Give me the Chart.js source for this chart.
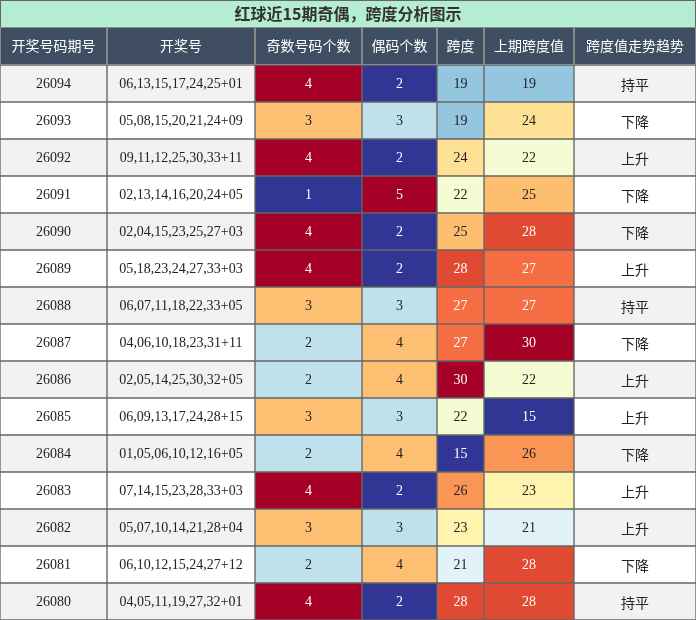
<!DOCTYPE html>
<html>
<head>
<meta charset="utf-8">
<script src="https://cdn.jsdelivr.net/npm/chart.js@4"></script>
<style>
  body { margin: 0; background: #fff; }
  #wrap { width: 696px; height: 620px; }
</style>
</head>
<body>
<div id="wrap"><canvas id="tbl"></canvas></div>
<script>
const title = '红球近15期奇偶，跨度分析图示';
const headers = ['开奖号码期号', '开奖号', '奇数号码个数', '偶码个数', '跨度', '上期跨度值', '跨度值走势趋势'];
const periods = ['26094','26093','26092','26091','26090','26089','26088','26087','26086','26085','26084','26083','26082','26081','26080'];
const draws = [
    '06,13,15,17,24,25+01', '05,08,15,20,21,24+09', '09,11,12,25,30,33+11', '02,13,14,16,20,24+05',
    '02,04,15,23,25,27+03', '05,18,23,24,27,33+03', '06,07,11,18,22,33+05', '04,06,10,18,23,31+11',
    '02,05,14,25,30,32+05', '06,09,13,17,24,28+15', '01,05,06,10,12,16+05', '07,14,15,23,28,33+03',
    '05,07,10,14,21,28+04', '06,10,12,15,24,27+12', '04,05,11,19,27,32+01'
];
const oddCount = [4,3,4,1,4,4,3,2,2,3,2,4,3,2,4];
const evenCount = [2,3,2,5,2,2,3,4,4,3,4,2,3,4,2];
const span = [19,19,24,22,25,28,27,27,30,22,15,26,23,21,28];
const prevSpan = [19,24,22,25,28,27,27,30,22,15,26,23,21,28,28];
const trend = ['持平','下降','上升','下降','下降','上升','持平','下降','上升','上升','下降','上升','上升','下降','持平'];

// column edges in px (x scale is 0..696)
const edges = [0, 107, 255, 362, 437, 484, 574, 696];

const countColors = { 1: '#313695', 2: '#bfe1eb', 3: '#fdbf71', 4: '#a50026', 5: '#a50026' };
const evenColors = { 2: '#313695', 3: '#bfe1eb', 4: '#fdbf71', 5: '#a50026' };
const spanColors = {
    15: '#313695', 19: '#94c6df', 21: '#e1f3f8', 22: '#f5fbd3', 23: '#fff4ad', 24: '#fee194',
    25: '#fdbe70', 26: '#f99555', 27: '#f46d43', 28: '#e04a33', 30: '#a50026'
};
const darkBg = ['#313695', '#a50026', '#e04a33', '#f46d43'];

const stripe = periods.map((p, i) => i % 2 === 0 ? '#f2f2f2' : '#ffffff');

const columns = [
    { text: periods, bg: stripe },
    { text: draws, bg: stripe },
    { text: oddCount, bg: oddCount.map(v => countColors[v]) },
    { text: evenCount, bg: evenCount.map(v => evenColors[v]) },
    { text: span, bg: span.map(v => spanColors[v]) },
    { text: prevSpan, bg: prevSpan.map(v => spanColors[v]) },
    { text: trend, bg: stripe }
];

const FONT = '"Liberation Serif", "Noto Sans CJK SC", serif';

const textPlugin = {
    id: 'cellText',
    afterDatasetsDraw(chart) {
        const ctx = chart.ctx;
        const x = chart.scales.x;
        ctx.save();
        ctx.textAlign = 'center';
        ctx.textBaseline = 'middle';
        columns.forEach((col, c) => {
            const meta = chart.getDatasetMeta(c);
            meta.data.forEach((bar, r) => {
                const isCjk = c === 6;
                ctx.font = (isCjk ? '14px "Noto Sans CJK SC"' : '14px ' + FONT);
                ctx.fillStyle = darkBg.includes(col.bg[r]) ? '#ffffff' : '#222222';
                const cx = (x.getPixelForValue(edges[c]) + x.getPixelForValue(edges[c + 1])) / 2;
                ctx.fillText(String(col.text[r]), cx, bar.y + 1);
            });
        });
        // title band
        const left = x.getPixelForValue(0), right = x.getPixelForValue(696);
        ctx.fillStyle = '#b5edd2';
        ctx.fillRect(left, 0, right - left, 27);
        ctx.strokeStyle = '#666';
        ctx.strokeRect(left + 0.5, 0.5, right - left - 1, 27);
        ctx.fillStyle = '#333';
        ctx.font = 'bold 16px "Noto Sans CJK SC"';
        ctx.fillText(title, (left + right) / 2, 14);
        // header row
        headers.forEach((h, c) => {
            const x0 = x.getPixelForValue(edges[c]), x1 = x.getPixelForValue(edges[c + 1]);
            ctx.fillStyle = '#3f4e62';
            ctx.fillRect(x0, 27, x1 - x0, chart.chartArea.top - 27);
            ctx.strokeStyle = '#888';
            ctx.strokeRect(x0 + 0.5, 27.5, x1 - x0 - 1, chart.chartArea.top - 28);
            ctx.fillStyle = '#ffffff';
            ctx.font = '14px "Noto Sans CJK SC"';
            ctx.fillText(h, (x0 + x1) / 2, (27 + chart.chartArea.top) / 2);
        });
        ctx.restore();
    }
};

new Chart(document.getElementById('tbl'), {
    type: 'bar',
    data: {
        labels: periods,
        datasets: columns.map((col, c) => ({
            data: periods.map(() => [edges[c], edges[c + 1]]),
            backgroundColor: col.bg,
            borderColor: '#666666',
            borderWidth: 1,
            borderSkipped: false,
            barPercentage: 1,
            categoryPercentage: 1
        }))
    },
    options: {
        indexAxis: 'y',
        responsive: true,
        maintainAspectRatio: false,
        animation: false,
        layout: { padding: { top: 65, left: 0, right: 0, bottom: 0 } },
        scales: {
            x: { display: false, min: 0, max: 696 },
            y: { display: false, stacked: true }
        },
        plugins: {
            legend: { display: false },
            tooltip: { enabled: false }
        }
    },
    plugins: [textPlugin]
});
</script>
</body>
</html>
